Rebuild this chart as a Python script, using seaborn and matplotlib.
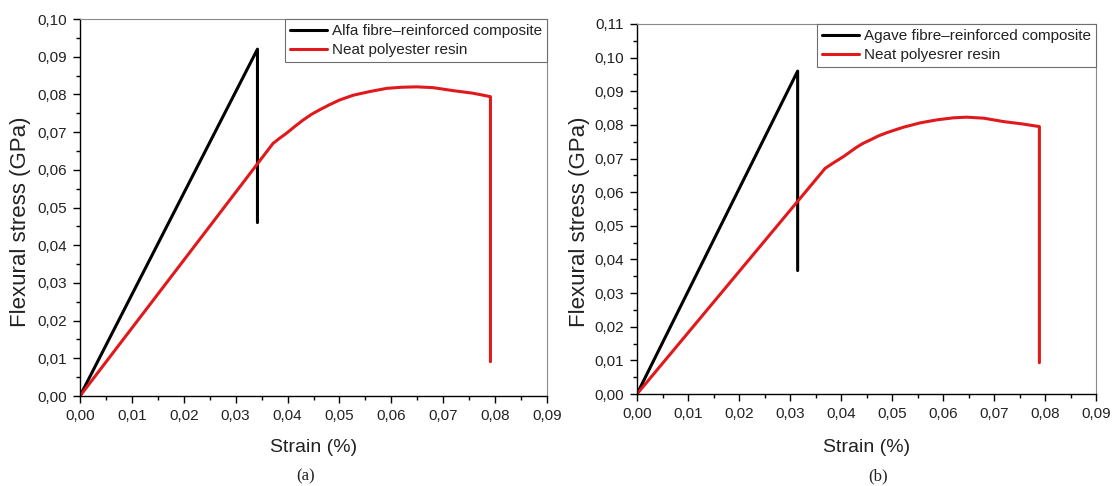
import numpy as np
import pandas as pd
import matplotlib
matplotlib.use("Agg")
import matplotlib.pyplot as plt
import seaborn as sns
from matplotlib.ticker import FuncFormatter, MultipleLocator, AutoMinorLocator

# ---- data ----
# Panel (a)
alfa_strain = [0.0, 0.0342, 0.0342]
alfa_stress = [0.0, 0.0920, 0.0460]
neat_a_strain = [0.0, 0.0372, 0.0385, 0.0398, 0.0414, 0.0430, 0.0446, 0.0463, 0.0480,
                 0.0500, 0.0527, 0.0560, 0.0591, 0.0620, 0.0649, 0.0680, 0.0719,
                 0.0758, 0.0791, 0.0791]
neat_a_stress = [0.0, 0.0670, 0.0684, 0.0697, 0.0715, 0.0732, 0.0747, 0.0760, 0.0772,
                 0.0785, 0.0798, 0.0808, 0.0816, 0.0819, 0.0820, 0.0818, 0.0810,
                 0.0803, 0.0794, 0.0091]
# Panel (b)
agave_strain = [0.0, 0.0315, 0.0315]
agave_stress = [0.0, 0.0960, 0.0367]
neat_b_strain = [0.0, 0.0369, 0.0387, 0.0405, 0.0418, 0.0430, 0.0443, 0.0457, 0.0473,
                 0.0490, 0.0522, 0.0555, 0.0588, 0.0620, 0.0646, 0.0680, 0.0718,
                 0.0755, 0.0789, 0.0789]
neat_b_stress = [0.0, 0.0671, 0.0689, 0.0706, 0.0720, 0.0733, 0.0745, 0.0755, 0.0767,
                 0.0777, 0.0793, 0.0806, 0.0815, 0.0821, 0.0823, 0.0820, 0.0810,
                 0.0803, 0.0795, 0.0093]

label_alfa = "Alfa fibre\u2013reinforced composite"
label_neat_a = "Neat polyester resin"
label_agave = "Agave fibre\u2013reinforced composite"
label_neat_b = "Neat polyesrer resin"

x_label = "Strain (%)"
y_label = "Flexural stress (GPa)"
panel_labels = ["(a)", "(b)"]

sns.set_theme(style="ticks")
plt.rcParams["font.family"] = ["Liberation Sans", "DejaVu Sans"]

W, H = 1112, 486
fig = plt.figure(figsize=(W / 100, H / 100), dpi=100)
fig.patch.set_facecolor("white")

def px_axes(l, t, r, b):
    return fig.add_axes([l / W, 1 - b / H, (r - l) / W, (b - t) / H])

ax_a = px_axes(80, 19, 547, 396)
ax_b = px_axes(637, 24, 1096, 394)

RED = "#e0191c"
LW = 2.2

fmt = FuncFormatter(lambda v, p: f"{v:.2f}".replace(".", ","))

def style(ax, ymax, ylabel_x, labely):
    ax.set_xlim(0, 0.09)
    ax.set_ylim(0, ymax)
    ax.xaxis.set_major_locator(MultipleLocator(0.01))
    ax.yaxis.set_major_locator(MultipleLocator(0.01))
    ax.xaxis.set_minor_locator(AutoMinorLocator(2))
    ax.yaxis.set_minor_locator(AutoMinorLocator(2))
    ax.xaxis.set_major_formatter(fmt)
    ax.yaxis.set_major_formatter(fmt)
    ax.tick_params(which="major", direction="out", length=5, width=1.0,
                   labelsize=11, colors="black", labelcolor="#222222", pad=4.5)
    ax.tick_params(which="minor", direction="out", length=3, width=1.0, colors="black")
    ax.tick_params(axis="x", which="major", pad=4)
    for s in ["left", "bottom"]:
        ax.spines[s].set_color("black")
        ax.spines[s].set_linewidth(1.0)
    for s in ["top", "right"]:
        ax.spines[s].set_color("#8a8a8a")
        ax.spines[s].set_linewidth(0.8)
    ax.set_facecolor("white")
    ax.set_xlabel(x_label, fontsize=14, color="#222222")
    ax.set_ylabel(y_label, fontsize=16, color="#222222")
    ax.yaxis.set_label_coords(ylabel_x, labely, transform=fig.transFigure)
    ax.xaxis.set_label_coords((ax.get_position().x0 + ax.get_position().x1) / 2,
                              1 - 447 / H, transform=fig.transFigure)
    ax.xaxis.label.set_va("center")
    ax.yaxis.label.set_va("center")

def draw(ax, s1, y1, l1, s2, y2, l2):
    sns.lineplot(x=s1, y=y1, ax=ax, color="black", linewidth=LW, sort=False,
                 estimator=None, label=l1)
    sns.lineplot(x=s2, y=y2, ax=ax, color=RED, linewidth=LW, sort=False,
                 estimator=None, label=l2)
    leg = ax.legend(loc="upper right", bbox_to_anchor=(1, 1), borderaxespad=0,
                    fancybox=False, frameon=True, edgecolor="#6e6e6e",
                    framealpha=1, fontsize=11, handlelength=2.4,
                    handletextpad=0.3, borderpad=0.35, labelspacing=0.3)
    leg.get_frame().set_linewidth(0.8)
    for t in leg.get_texts():
        t.set_color("#222222")

draw(ax_a, alfa_strain, alfa_stress, label_alfa, neat_a_strain, neat_a_stress, label_neat_a)
draw(ax_b, agave_strain, agave_stress, label_agave, neat_b_strain, neat_b_stress, label_neat_b)

style(ax_a, 0.10, 21 / W, 1 - 222 / H)
style(ax_b, 0.11, 579 / W, 1 - 222 / H)

fig.text(306 / W, 1 - 476 / H, panel_labels[0], ha="center", va="center",
         fontsize=12, family=["Liberation Serif", "DejaVu Serif"], color="#222222")
fig.text(878 / W, 1 - 476 / H, panel_labels[1], ha="center", va="center",
         fontsize=12, family=["Liberation Serif", "DejaVu Serif"], color="#222222")

fig.savefig("out.png", dpi=100, facecolor="white")
